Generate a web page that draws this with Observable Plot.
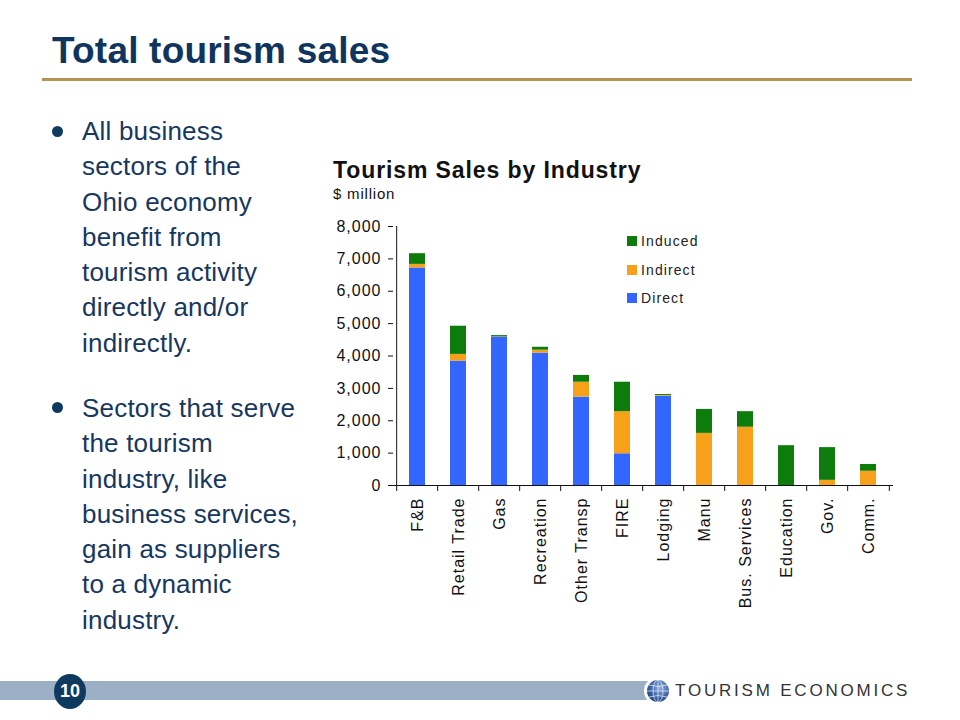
<!DOCTYPE html>
<html>
<head>
<meta charset="utf-8">
<script src="https://cdn.jsdelivr.net/npm/d3@7"></script>
<script src="https://cdn.jsdelivr.net/npm/@observablehq/plot@0.6"></script>
<style>
  html, body { margin: 0; padding: 0; background: #fff; }
  #slide { position: relative; width: 960px; height: 720px; overflow: hidden; font-family: "Liberation Sans", Arial, sans-serif; }
  .abs { position: absolute; white-space: nowrap; }
  #title { left: 52px; top: 32px; font-size: 37px; font-weight: bold; color: #0f355e; line-height: 37px; letter-spacing: 0.2px; }
  #rule { left: 42px; top: 78px; width: 870px; height: 3px; background: #b4934f; }
  .bullet { left: 82px; font-size: 26px; line-height: 35.3px; color: #17375e; letter-spacing: 0.2px; }
  .dot { width: 11px; height: 11px; border-radius: 50%; background: #0f3a60; }
  #ctitle { left: 333px; top: 159px; font-size: 23px; font-weight: bold; letter-spacing: 0.9px; color: #111; line-height: 23px; }
  #cunit { left: 333px; top: 186px; font-size: 15px; letter-spacing: 0.8px; color: #111; line-height: 15px; }
  .leg { left: 627px; font-size: 14px; letter-spacing: 1.1px; color: #222; line-height: 14px; display: flex; align-items: center; }
  .leg span.sw { display: inline-block; width: 10px; height: 10px; margin-right: 4px; }
  #chart { left: 330px; top: 210px; }
  #bar { left: 0; top: 681px; width: 655px; height: 19px; background: #9bb0c5; }
  #pg { left: 54px; top: 674px; width: 32px; height: 35px; border-radius: 50%; background: #0f3a60; color: #fff; font-weight: bold; font-size: 18px; line-height: 35px; text-align: center; }
  #logo { left: 675px; top: 681px; font-family: "Liberation Sans", sans-serif; font-size: 17px; letter-spacing: 2.8px; color: #333; line-height: 20px; }
  #globe { left: 642px; top: 677px; }
</style>
</head>
<body>
<div id="slide">
  <div class="abs" id="title">Total tourism sales</div>
  <div class="abs" id="rule"></div>

  <div class="abs dot" style="left:52px; top:126px;"></div>
  <div class="abs bullet" style="top:114px;">All business<br>sectors of the<br>Ohio economy<br>benefit from<br>tourism activity<br>directly and/or<br>indirectly.</div>

  <div class="abs dot" style="left:52px; top:402px;"></div>
  <div class="abs bullet" style="top:391px;">Sectors that serve<br>the tourism<br>industry, like<br>business services,<br>gain as suppliers<br>to a dynamic<br>industry.</div>

  <div class="abs" id="ctitle">Tourism Sales by Industry</div>
  <div class="abs" id="cunit">$ million</div>
  <div id="legend"></div>
  <div class="abs" id="chart"></div>

  <div class="abs" id="bar"></div>
  <svg class="abs" id="globe" width="30" height="28" viewBox="0 0 30 28">
    <defs>
      <radialGradient id="gg" cx="0.6" cy="0.35" r="0.75">
        <stop offset="0" stop-color="#8fb0e0"/>
        <stop offset="0.6" stop-color="#3a62a8"/>
        <stop offset="1" stop-color="#1b3a75"/>
      </radialGradient>
    </defs>
    <circle cx="16" cy="14" r="14" fill="#fff"/>
    <circle cx="16" cy="14" r="11" fill="url(#gg)"/>
    <g fill="none" stroke="#fff" stroke-width="0.8" opacity="0.8">
      <ellipse cx="16" cy="14" rx="5" ry="11"/>
      <line x1="16" y1="3" x2="16" y2="25"/>
      <line x1="5" y1="14" x2="27" y2="14"/>
      <path d="M7 8 Q16 11 25 8"/>
      <path d="M7 20 Q16 17 25 20"/>
    </g>
  </svg>
  <div class="abs" id="pg">10</div>
  <div class="abs" id="logo">TOURISM ECONOMICS</div>
</div>
<script>
const industries = ["F&B", "Retail Trade", "Gas", "Recreation", "Other Transp", "FIRE", "Lodging", "Manu", "Bus. Services", "Education", "Gov.", "Comm."];
const direct   = [6720, 3840, 4580, 4090, 2730,  980, 2760,    0,    0,    0,    0,   0];
const indirect = [ 110,  210,   10,   90,  460, 1300,   20, 1610, 1800,    0,  160, 440];
const induced  = [ 330,  870,   40,   90,  210,  910,   30,  740,  480, 1230, 1010, 210];
const seriesNames = ["Direct", "Indirect", "Induced"];
const seriesColors = ["#3366ff", "#f7a11b", "#0d7c0d"];
const legendOrder = ["Induced", "Indirect", "Direct"];
const yTicks = [0, 1000, 2000, 3000, 4000, 5000, 6000, 7000, 8000];

const seriesValues = {Direct: direct, Indirect: indirect, Induced: induced};
const table = [];
industries.forEach((ind, i) => {
  seriesNames.forEach(s => table.push({industry: ind, type: s, value: seriesValues[s][i]}));
});

const W = 600, H = 420, mL = 63, mR = 37;
const step = (W - mL - mR) / industries.length;

const chart = Plot.plot({
  width: W,
  height: H,
  marginLeft: mL,
  marginRight: mR,
  marginTop: 16,
  marginBottom: 145,
  style: {fontFamily: "Liberation Sans, Arial, sans-serif", fontSize: "16px", letterSpacing: "1px", color: "#111", background: "transparent", overflow: "visible"},
  x: {domain: industries, paddingInner: 0.6, paddingOuter: 0.3, label: null},
  y: {domain: [0, 8000], label: null},
  color: {domain: seriesNames, range: seriesColors},
  marks: [
    Plot.barY(table, {x: "industry", y: "value", fill: "type", order: seriesNames}),
    Plot.ruleY([0], {stroke: "#111"}),
    Plot.ruleX([industries[0]], {dx: -step / 2, y1: 0, y2: 8000, stroke: "#111"}),
    Plot.axisY({ticks: yTicks, tickFormat: d3.format(","), tickSize: 5, tickPadding: 7, label: null, stroke: "#111"}),
    Plot.axisX({tickSize: 0, tickRotate: -90, tickPadding: 12, label: null}),
    Plot.axisX(industries, {tickSize: 6, tickFormat: () => "", dx: -step / 2, label: null, stroke: "#111"}),
    Plot.axisX([industries[industries.length - 1]], {tickSize: 6, tickFormat: () => "", dx: step / 2, label: null, stroke: "#111"})
  ]
});
document.getElementById("chart").appendChild(chart);

const legendTops = [234, 263, 291];
const legend = document.getElementById("legend");
legendOrder.forEach((name, i) => {
  const row = document.createElement("div");
  row.className = "abs leg";
  row.style.top = legendTops[i] + "px";
  const sw = document.createElement("span");
  sw.className = "sw";
  sw.style.background = seriesColors[seriesNames.indexOf(name)];
  row.appendChild(sw);
  row.appendChild(document.createTextNode(name));
  legend.appendChild(row);
});
</script>
</body>
</html>
